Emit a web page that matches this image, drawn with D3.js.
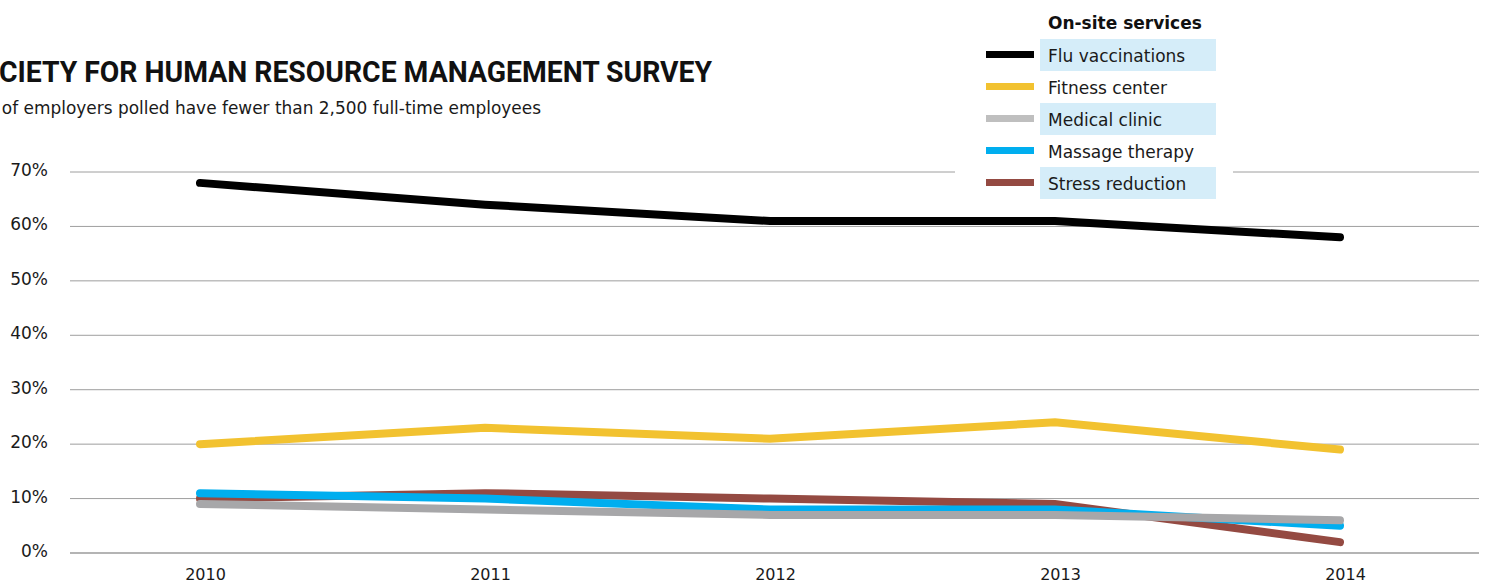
<!DOCTYPE html>
<html>
<head>
<meta charset="utf-8">
<script src="https://cdn.jsdelivr.net/npm/d3@7"></script>
<style>
  html, body { margin: 0; padding: 0; background: #fff; overflow: hidden; }
  svg { display: block; font-family: "DejaVu Sans", sans-serif; }
</style>
</head>
<body>
<svg id="chart" width="1486" height="586"></svg>
<script>
// Share of employers offering each on-site service, by survey year (%)
const years = [2010, 2011, 2012, 2013, 2014];
const fluVaccinations = [68, 64, 61, 61, 58];
const fitnessCenter   = [20, 23, 21, 24, 19];
const medicalClinic   = [9, 8, 7, 7, 6];
const massageTherapy  = [11, 10, 8, 8, 5];
const stressReduction = [10, 11, 10, 9, 2];
const yTicks = [0, 10, 20, 30, 40, 50, 60, 70];

const seriesNames = ["Flu vaccinations", "Fitness center", "Medical clinic", "Massage therapy", "Stress reduction"];
const seriesValues = [fluVaccinations, fitnessCenter, medicalClinic, massageTherapy, stressReduction];
const lineColors = ["#000000", "#f2c230", "#a7a7a9", "#00aeef", "#944a42"];
const swatchColors = ["#000000", "#f2c230", "#bfbfbf", "#00aeef", "#944a42"];
// draw order: later entries sit on top
const drawOrder = [1, 0, 4, 3, 2];

const svg = d3.select("#chart");

const x = d3.scalePoint().domain(years).range([200, 1340]);
const y = d3.scaleLinear().domain([0, 70]).range([553, 172]);

// gridlines
const gridLeft = 70, gridRight = 1479;
svg.append("g").selectAll("line")
  .data(yTicks)
  .join("line")
  .attr("x1", gridLeft).attr("x2", gridRight)
  .attr("y1", d => y(d)).attr("y2", d => y(d))
  .attr("stroke", d => d === 0 ? "#b4b4b4" : "#9e9e9e")
  .attr("stroke-width", d => d === 0 ? 2 : 1);

// y tick labels
svg.append("g").selectAll("text")
  .data(yTicks)
  .join("text")
  .attr("x", 48)
  .attr("y", d => y(d) - 2)
  .attr("text-anchor", "end")
  .attr("dominant-baseline", "central")
  .attr("font-size", 17)
  .attr("fill", "#1a1a1a")
  .text(d => d + "%");

// x axis labels
const xAxis = d3.axisBottom(x).tickSize(0).tickPadding(0);
const xg = svg.append("g").attr("transform", "translate(5,569)").call(xAxis);
xg.select(".domain").remove();
xg.selectAll("text")
  .attr("font-size", 16)
  .attr("font-family", "'DejaVu Sans', sans-serif")
  .attr("fill", "#1a1a1a")
  .attr("dy", "0.7em");

// series lines
const line = d3.line()
  .x((d, i) => x(years[i]))
  .y(d => y(d));

svg.append("g").selectAll("path")
  .data(drawOrder)
  .join("path")
  .attr("d", i => line(seriesValues[i]))
  .attr("fill", "none")
  .attr("stroke", i => lineColors[i])
  .attr("stroke-width", 8)
  .attr("stroke-linecap", "round")
  .attr("stroke-linejoin", "miter");

// title and subtitle
svg.append("text")
  .attr("x", -38).attr("y", 82)
  .attr("font-family", "Roboto, sans-serif")
  .attr("font-size", 30)
  .attr("font-weight", 700)
  .attr("fill", "#111")
  .attr("textLength", 750)
  .attr("lengthAdjust", "spacingAndGlyphs")
  .text("SOCIETY FOR HUMAN RESOURCE MANAGEMENT SURVEY");

svg.append("text")
  .attr("x", 541).attr("y", 114)
  .attr("text-anchor", "end")
  .attr("font-size", 16.95)
  .attr("fill", "#1a1a1a")
  .text("Percent of employers polled have fewer than 2,500 full-time employees");

// legend
const legend = svg.append("g");
legend.append("rect")
  .attr("x", 955).attr("y", 0).attr("width", 278).attr("height", 200)
  .attr("fill", "#fff");
legend.append("text")
  .attr("x", 1048).attr("y", 29)
  .attr("font-size", 17)
  .attr("font-weight", 700)
  .attr("fill", "#111")
  .text("On-site services");

const rows = legend.selectAll("g.row")
  .data(seriesNames)
  .join("g")
  .attr("class", "row")
  .attr("transform", (d, i) => `translate(0,${55 + i * 32})`);

rows.filter((d, i) => i % 2 === 0)
  .append("rect")
  .attr("x", 1040).attr("y", -16).attr("width", 176).attr("height", 32)
  .attr("fill", "#d5edf9");

rows.append("rect")
  .attr("x", 986).attr("y", -4).attr("width", 48).attr("height", 7)
  .attr("fill", (d, i) => swatchColors[i]);

rows.append("text")
  .attr("x", 1048).attr("y", 1)
  .attr("dominant-baseline", "central")
  .attr("font-size", 17)
  .attr("fill", "#1a1a1a")
  .text(d => d);
</script>
</body>
</html>
